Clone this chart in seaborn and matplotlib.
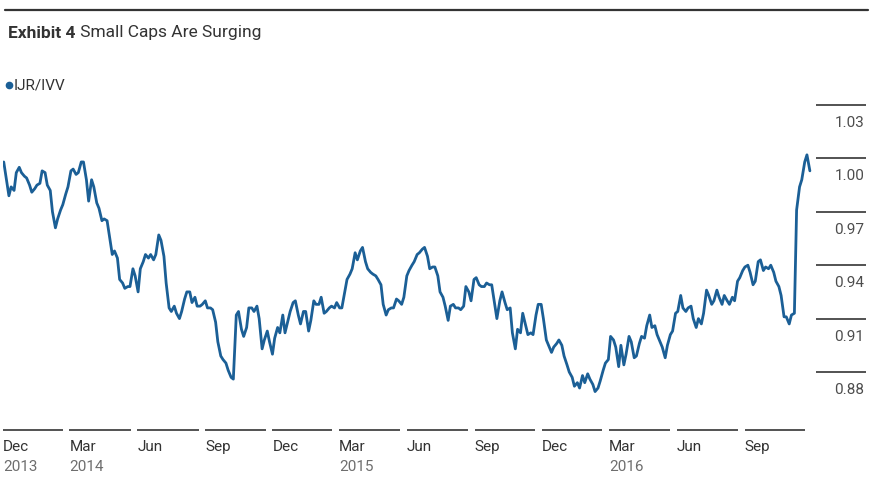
import numpy as np
import pandas as pd
import matplotlib
matplotlib.use("Agg")
import matplotlib.pyplot as plt
import seaborn as sns

# ---------------- data ----------------
# IJR/IVV ratio, Monday and Thursday readings each week
monday_start = "2013-12-02"
monday_values = [
    0.998, 0.979, 0.982, 0.995, 0.990, 0.985, 0.983, 0.986, 0.992, 0.982,
    0.961, 0.971, 0.980, 0.993, 0.991, 0.998, 0.988, 0.988, 0.975, 0.965,
    0.965, 0.946, 0.944, 0.930, 0.928, 0.938, 0.925, 0.942, 0.944, 0.943,
    0.957, 0.945, 0.916, 0.917, 0.910, 0.921, 0.925, 0.922, 0.917, 0.920,
    0.916, 0.908, 0.889, 0.885, 0.877, 0.912, 0.904, 0.905, 0.916, 0.917,
    0.893, 0.903, 0.890, 0.905, 0.912, 0.909, 0.919, 0.912, 0.914, 0.903,
    0.920, 0.918, 0.913, 0.916, 0.916, 0.916, 0.925, 0.935, 0.947, 0.948,
    0.942, 0.936, 0.934, 0.929, 0.912, 0.916, 0.921, 0.918, 0.934, 0.940,
    0.946, 0.949, 0.945, 0.939, 0.934, 0.922, 0.909, 0.918, 0.916, 0.917,
    0.925, 0.932, 0.929, 0.928, 0.929, 0.918, 0.920, 0.919, 0.916, 0.893,
    0.902, 0.906, 0.902, 0.912, 0.918, 0.898, 0.891, 0.896, 0.895, 0.884,
    0.877, 0.874, 0.878, 0.879, 0.873, 0.871, 0.881, 0.887, 0.898, 0.883,
    0.884, 0.900, 0.888, 0.896, 0.899, 0.912, 0.906, 0.897, 0.888, 0.901,
    0.913, 0.923, 0.914, 0.917, 0.905, 0.907, 0.926, 0.918, 0.926, 0.918,
    0.920, 0.922, 0.931, 0.937, 0.940, 0.929, 0.942, 0.937, 0.938, 0.936,
    0.928, 0.911, 0.907, 0.913, 0.984, 0.998, 0.993,
]
thursday_start = "2013-12-05"
thursday_values = [
    0.990, 0.984, 0.992, 0.992, 0.989, 0.981, 0.985, 0.993, 0.985, 0.970,
    0.966, 0.974, 0.984, 0.994, 0.992, 0.998, 0.976, 0.984, 0.972, 0.966,
    0.957, 0.948, 0.932, 0.927, 0.928, 0.934, 0.938, 0.946, 0.946, 0.946,
    0.954, 0.930, 0.914, 0.913, 0.914, 0.925, 0.919, 0.917, 0.918, 0.916,
    0.915, 0.897, 0.887, 0.881, 0.876, 0.914, 0.900, 0.916, 0.914, 0.910,
    0.898, 0.897, 0.899, 0.902, 0.902, 0.914, 0.920, 0.907, 0.914, 0.909,
    0.918, 0.922, 0.914, 0.917, 0.919, 0.916, 0.932, 0.938, 0.943, 0.950,
    0.938, 0.935, 0.932, 0.918, 0.915, 0.916, 0.920, 0.922, 0.937, 0.942,
    0.947, 0.950, 0.938, 0.939, 0.925, 0.917, 0.917, 0.916, 0.915, 0.928,
    0.920, 0.933, 0.928, 0.930, 0.929, 0.910, 0.925, 0.915, 0.902, 0.904,
    0.913, 0.901, 0.901, 0.918, 0.910, 0.895, 0.894, 0.898, 0.889, 0.880,
    0.872, 0.871, 0.874, 0.876, 0.869, 0.875, 0.885, 0.900, 0.894, 0.895,
    0.890, 0.897, 0.889, 0.900, 0.906, 0.905, 0.901, 0.894, 0.895, 0.903,
    0.914, 0.916, 0.916, 0.910, 0.910, 0.913, 0.923, 0.920, 0.922, 0.923,
    0.918, 0.920, 0.933, 0.939, 0.936, 0.931, 0.943, 0.939, 0.940, 0.931,
    0.923, 0.911, 0.912, 0.971, 0.988, 1.002,
]

series_name = "IJR/IVV"
title_bold = "Exhibit 4"
title_rest = " Small Caps Are Surging"

y_ticks = [0.88, 0.91, 0.94, 0.97, 1.00, 1.03]
x_tick_dates = ["2013-12-01", "2014-03-01", "2014-06-01", "2014-09-01",
                "2014-12-01", "2015-03-01", "2015-06-01", "2015-09-01",
                "2015-12-01", "2016-03-01", "2016-06-01", "2016-09-01"]
x_tick_months = ["Dec", "Mar", "Jun", "Sep", "Dec", "Mar", "Jun", "Sep",
                 "Dec", "Mar", "Jun", "Sep"]
x_tick_years = ["2013", "2014", "", "", "", "2015", "", "", "", "2016", "", ""]

mon = pd.DataFrame({"date": pd.date_range(monday_start, periods=len(monday_values), freq="W-MON"),
                    "ratio": monday_values})
thu = pd.DataFrame({"date": pd.date_range(thursday_start, periods=len(thursday_values), freq="W-THU"),
                    "ratio": thursday_values})
df = pd.concat([mon, thu]).sort_values("date").reset_index(drop=True)

# ---------------- style ----------------
sns.set_style("white")
plt.rcParams["font.family"] = ["Roboto", "DejaVu Sans"]

LINE = "#1b5f96"
DARK = "#333333"
MID = "#4d4d4d"
LIGHT = "#6e6e6e"

W, H = 873, 490
fig = plt.figure(figsize=(W / 100, H / 100), dpi=100)

ax_left, ax_right, ax_top, ax_bottom = 3, 866, 95, 400
ax = fig.add_axes([ax_left / W, 1 - ax_bottom / H,
                   (ax_right - ax_left) / W, (ax_bottom - ax_top) / H])

sns.lineplot(data=df, x="date", y="ratio", ax=ax, color=LINE, linewidth=2.0,
             estimator=None)

per_px = 0.15 / 267
ax.set_ylim(0.88 - (ax_bottom - 372) * per_px, 1.03 + (105 - ax_top) * per_px)
ax.set_xlim(pd.Timestamp("2013-12-01"), pd.Timestamp("2017-02-12"))

for s in ax.spines.values():
    s.set_visible(False)
ax.set_xticks([])
ax.set_yticks([])
ax.set_xlabel("")
ax.set_ylabel("")
ax.grid(False)

# right side short gridline segments + labels
ytr = ax.get_yaxis_transform()
seg_x0 = (816 - ax_left) / (ax_right - ax_left)
ax.hlines(y_ticks, seg_x0, 1.0, transform=ytr, colors="#444444", linewidth=1.3,
          clip_on=False)
for v in y_ticks:
    ax.annotate(f"{v:.2f}", xy=(0.998, v), xycoords=ytr, xytext=(0, -13),
                textcoords="offset points", ha="right", va="center",
                fontsize=11, color=MID, annotation_clip=False)

# bottom quarter segments + month/year labels
xtr = ax.get_xaxis_transform()
y_seg = (ax_bottom - 430) / (ax_bottom - ax_top)
tick_ts = [pd.Timestamp(d) for d in x_tick_dates]
for i, t0 in enumerate(tick_ts):
    t1 = t0 + pd.DateOffset(months=3) - pd.Timedelta(days=9)
    ax.plot([t0, t1], [y_seg, y_seg], transform=xtr, color="#444444",
            linewidth=1.3, clip_on=False, solid_capstyle="butt")
    ax.text(t0, (ax_bottom - 447) / (ax_bottom - ax_top), x_tick_months[i],
            transform=xtr, ha="left", va="center", fontsize=11, color=DARK)
    if x_tick_years[i]:
        ax.text(t0, (ax_bottom - 467) / (ax_bottom - ax_top), x_tick_years[i],
                transform=xtr, ha="left", va="center", fontsize=11, color=LIGHT)

# top rule
fig.add_artist(plt.Line2D([5 / W, 868 / W], [1 - 10 / H, 1 - 10 / H],
                          color=DARK, linewidth=1.6))

# title
t1 = fig.text(8 / W, 1 - 33 / H, title_bold, fontsize=12.5, fontweight="bold",
              color=DARK, ha="left", va="center")
ax.annotate(title_rest, xy=(1, 0.5), xycoords=t1, ha="left", va="center",
            fontsize=12.5, color=DARK, annotation_clip=False)

# legend
fig.add_artist(plt.Line2D([9 / W], [1 - 85 / H], marker="o", markersize=4.5,
                          color=LINE, linestyle="none"))
fig.text(14 / W, 1 - 85 / H, series_name, fontsize=11, color=DARK,
         ha="left", va="center")

fig.savefig("out.png", dpi=100)
